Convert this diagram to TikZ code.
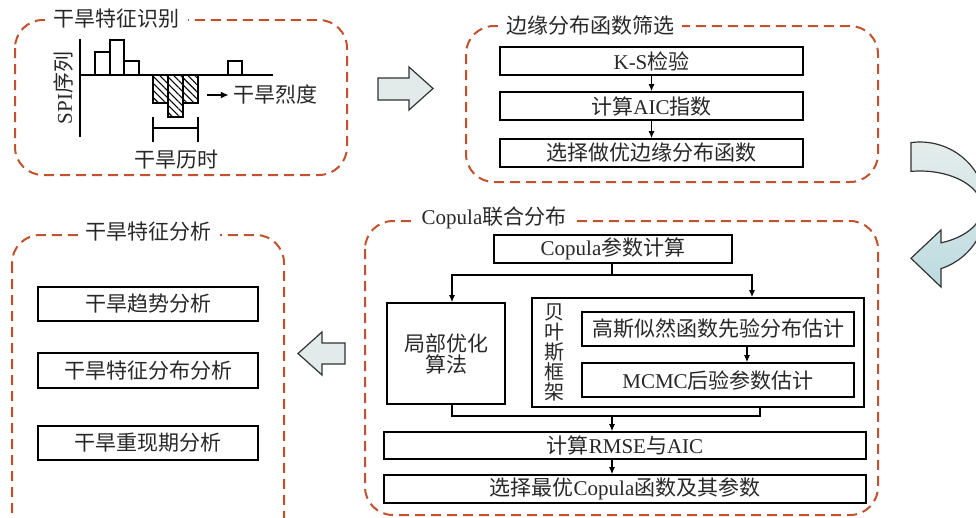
\documentclass[tikz,border=0pt]{standalone}
\usepackage{fontspec}
\setmainfont{Liberation Serif}
\newfontfamily\zh{Noto Sans CJK SC}
\usetikzlibrary{arrows.meta,patterns.meta}
\definecolor{framecol}{RGB}{193,82,45}
\definecolor{arrfill}{RGB}{227,234,234}
\definecolor{cA}{RGB}{229,236,236}
\definecolor{cB}{RGB}{188,219,224}
\definecolor{txt}{RGB}{40,40,40}
\newcommand\myfs{\fontsize{21}{24}\selectfont}
\newcommand\myfsv{\fontsize{20}{20}\selectfont}
\begin{document}
\begin{tikzpicture}[x=1pt,y=-1pt,
  dframe/.style={draw=framecol, line width=2pt, dash pattern=on 10pt off 6pt, rounded corners=28pt},
  ttl/.style={fill=white, inner xsep=8pt, inner ysep=1pt, text=txt, font=\zh\myfs},
  pbox/.style={draw=black, line width=1.6pt, inner sep=0pt, text=txt, font=\myfs, fill=white},
  conn/.style={line width=1.2pt, draw=black},
  arr/.style={conn, -{Latex[length=7pt,width=6pt]}},
  lbl/.style={text=txt, font=\myfs, inner sep=0pt},
  barpos/.style={draw=black, line width=1.8pt, fill=white},
  barneg/.style={draw=black, line width=2pt, pattern={Lines[angle=-45,distance=5pt,line width=1.1pt]}},
  blockarr/.style={draw=black!80, line width=1.2pt, fill=arrfill}]
\useasboundingbox[fill=white] (0,0) rectangle (976,517);

% ---------- frame 1: drought identification ----------
\draw[dframe] (15,20) rectangle (347,175);
\node[ttl] (t1) at (116.5,19) {干旱特征识别};
% chart
\draw[line width=2pt] (80,39) -- (80,137);
\draw[line width=2pt] (80,75) -- (273,75);
\draw[barpos] (95,52) rectangle (110,75);
\draw[barpos] (110,40) rectangle (124,75);
\draw[barpos] (124,61) rectangle (139,75);
\draw[barpos] (228,61) rectangle (242,75);
\draw[barneg] (153,75) rectangle (168,103);
\draw[barneg] (168,75) rectangle (183,117);
\draw[barneg] (183,75) rectangle (198,103);
\draw[line width=2pt] (153,117) -- (153,142);
\draw[line width=2pt] (198,117) -- (198,142);
\draw[line width=2pt] (153,128) -- (198,128);
\node[lbl, rotate=90] (spi) at (64,88) {SPI{\zh 序列}};
\node[lbl, font=\zh\myfs] (lied) at (275,95) {干旱烈度};
\node[lbl, font=\zh\myfs] (lishi) at (176,160) {干旱历时};
\coordinate (a0) at (207,95);
\draw[line width=2pt, -{Latex[length=8pt,width=7pt]}, shorten >=4pt] (a0) -- (lied.west);

% ---------- block arrow right ----------
\path[blockarr] (378,78) -- (409,78) -- (409,67) -- (433,88.5) -- (409,110) -- (409,100) -- (378,100) -- cycle;

% ---------- frame 2: marginal distributions ----------
\draw[dframe] (466,26) rectangle (878,182);
\node[ttl] (t2) at (590,25) {边缘分布函数筛选};
\node[pbox, minimum width=303pt, minimum height=28pt] (ks) at (651.5,61) {K-S{\zh 检验}};
\node[pbox, minimum width=303pt, minimum height=28pt] (aic) at (651.5,106) {{\zh 计算}AIC{\zh 指数}};
\node[pbox, minimum width=303pt, minimum height=28pt, font=\zh\myfs] (best) at (651.5,153) {选择做优边缘分布函数};
\draw[arr] (ks) -- (aic);
\draw[arr] (aic) -- (best);

% ---------- curved arrow ----------
\path[draw=black!80, line width=1.2pt, top color=cA, bottom color=cB]
  plot[domain=-97.8:71.4, samples=60, smooth] ({920+66*cos(\x)},{207+65*sin(\x)})
  -- (941,287) -- (911,258.3) -- (941,230)
  -- plot[domain=70.2:-98.3, samples=60, smooth] ({920+62*cos(\x)},{208+37*sin(\x)})
  -- cycle;

% ---------- frame 3: copula ----------
\draw[dframe] (365,221) rectangle (878,515);
\node[ttl] (t3) at (494,218) {\rmfamily Copula{\zh 联合分布}};
\node[pbox, minimum width=238pt, minimum height=28pt] (cp) at (613,249) {Copula{\zh 参数计算}};
\node[pbox, minimum width=118pt, minimum height=101pt, font=\zh\myfs, align=center] (local) at (446,353.5) {局部优化\\[-3pt]算法};
\node[pbox, minimum width=332pt, minimum height=109pt] (bayes) at (698,352.5) {};
\node[lbl, font=\zh\myfsv, align=center] (byl) at (554,352.5) {贝\\叶\\斯\\框\\架};
\node[pbox, minimum width=272pt, minimum height=34pt, font=\zh\myfs] (gauss) at (718,329) {高斯似然函数先验分布估计};
\node[pbox, minimum width=272pt, minimum height=34pt] (mcmc) at (718,380) {MCMC{\zh 后验参数估计}};
\node[pbox, minimum width=482pt, minimum height=27pt] (rmse) at (625,445.5) {{\zh 计算}RMSE{\zh 与}AIC};
\node[pbox, minimum width=482pt, minimum height=28pt] (sel) at (625,489) {{\zh 选择最优}Copula{\zh 函数及其参数}};
\coordinate (fk) at (612,275);
\draw[conn] (cp.south -| fk) -- (fk);
\draw[arr] (fk) -| ([xshift=6pt]local.north);
\draw[arr] (fk) -| ([xshift=54pt]bayes.north);
\draw[arr] ([xshift=29pt]gauss.south) -- ([xshift=29pt]mcmc.north);
\coordinate (mg) at (612,416);
\draw[conn] ([xshift=6pt]local.south) |- (mg);
\draw[conn] ([xshift=62pt]bayes.south) |- (mg);
\draw[arr] (mg) -- (mg |- rmse.north);
\draw[arr] (rmse.south -| mg) -- (sel.north -| mg);

% ---------- block arrow left ----------
\path[blockarr] (345,343) -- (322,343) -- (322,332) -- (298,353.5) -- (322,375) -- (322,364) -- (345,364) -- cycle;

% ---------- frame 4: analysis ----------
\draw[dframe] (12,235) rectangle (284,548);
\node[ttl] (t4) at (148.5,232) {干旱特征分析};
\node[pbox, minimum width=220pt, minimum height=34pt, font=\zh\myfs] (trend) at (148,304) {干旱趋势分析};
\node[pbox, minimum width=220pt, minimum height=35pt, font=\zh\myfs] (dist) at (148,370.5) {干旱特征分布分析};
\node[pbox, minimum width=220pt, minimum height=34pt, font=\zh\myfs] (ret) at (148,443) {干旱重现期分析};
\end{tikzpicture}
\end{document}
